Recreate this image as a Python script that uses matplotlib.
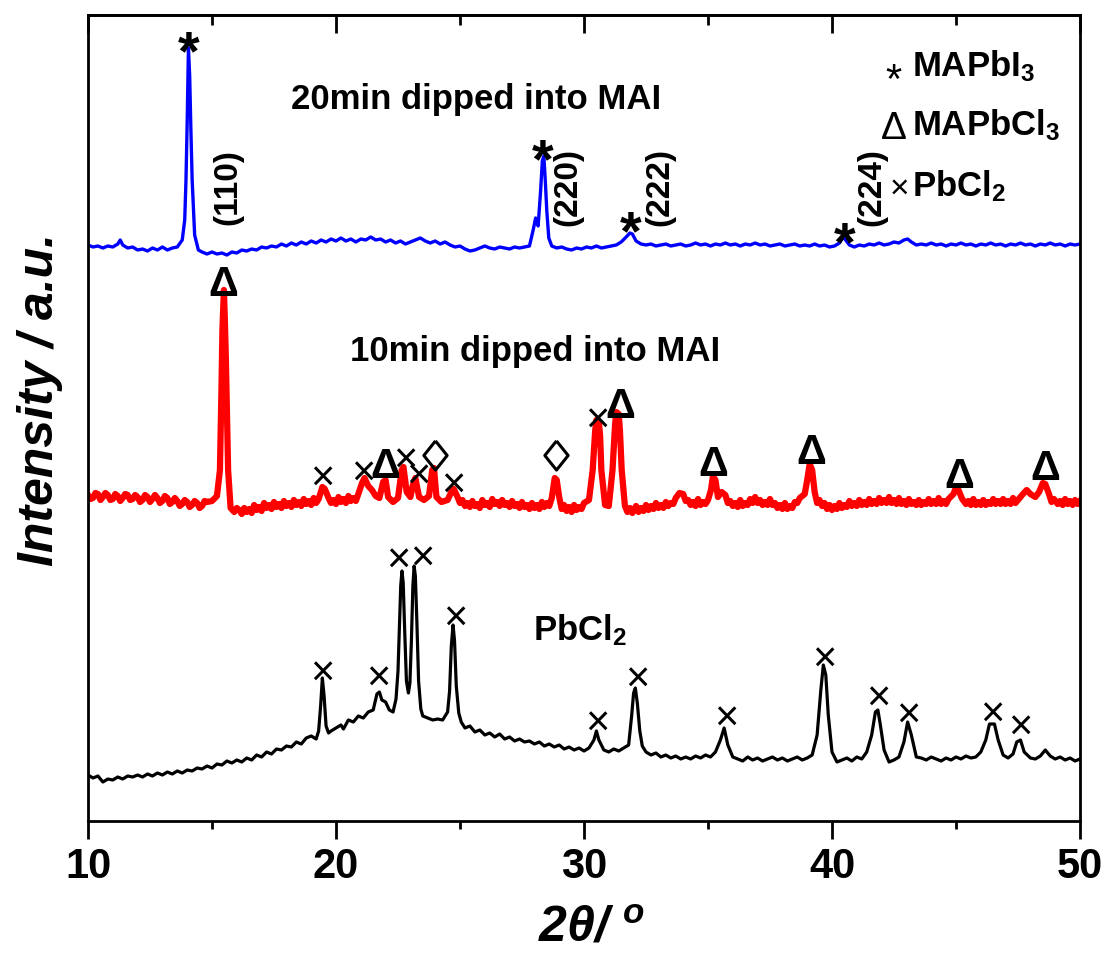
import numpy as np
import matplotlib
matplotlib.use("Agg")
from matplotlib import pyplot as plt

plt.rcParams['font.family'] = ['Liberation Sans', 'DejaVu Sans']
plt.rcParams['mathtext.fontset'] = 'custom'
plt.rcParams['mathtext.rm'] = 'Liberation Sans'
plt.rcParams['mathtext.bf'] = 'Liberation Sans:bold'
plt.rcParams['mathtext.it'] = 'Liberation Sans:italic:bold'

# XRD patterns (2theta, intensity a.u., curves already offset)
blue = [(10.0, 576), (10.2, 574), (10.4, 575), (10.6, 573), (10.8, 575), (11.0, 574), (11.2, 577), (11.3, 581),
        (11.4, 576), (11.6, 573), (11.8, 574), (12.0, 571), (12.2, 572), (12.4, 570), (12.6, 573), (12.8, 571),
        (13.0, 574), (13.2, 571), (13.4, 573), (13.6, 574), (13.8, 581), (13.9, 601), (13.95, 640), (14.0, 700),
        (14.05, 773), (14.1, 745), (14.15, 690), (14.2, 641), (14.3, 586), (14.45, 571), (14.6, 569), (14.8, 567),
        (15.0, 569), (15.2, 567),
        (15.4, 568), (15.6, 566), (15.8, 569), (16.0, 568), (16.2, 571), (16.4, 570), (16.6, 572), (16.8, 571),
        (17.0, 574), (17.2, 573), (17.4, 575), (17.6, 574), (17.8, 577), (18.0, 575), (18.2, 578), (18.4, 576),
        (18.6, 579), (18.8, 577), (19.0, 580), (19.2, 578), (19.4, 581), (19.6, 579), (19.8, 582), (20.0, 580),
        (20.2, 583), (20.4, 580), (20.6, 582), (20.8, 579), (21.0, 582), (21.2, 581), (21.4, 584), (21.6, 581),
        (21.8, 582), (22.0, 579), (22.2, 581), (22.4, 578), (22.6, 580), (22.8, 577), (23.0, 579), (23.2, 581),
        (23.4, 583), (23.6, 580), (23.8, 578), (24.0, 580), (24.2, 577), (24.4, 579), (24.6, 576), (24.8, 574),
        (25.0, 575), (25.2, 572), (25.4, 570), (25.6, 571), (25.8, 573), (26.0, 575), (26.2, 573), (26.4, 572),
        (26.6, 574), (26.8, 573), (27.0, 572), (27.2, 574), (27.4, 573), (27.6, 574), (27.8, 575), (27.95, 591),
        (28.05, 603), (28.15, 595), (28.25, 630), (28.32, 660), (28.38, 665), (28.44, 640), (28.5, 610),
        (28.58, 583), (28.7, 575), (28.9, 573),
        (29.1, 574), (29.3, 572), (29.5, 571), (29.7, 573), (29.9, 572), (30.1, 574), (30.3, 573), (30.5, 575),
        (30.7, 573), (30.9, 574), (31.1, 575), (31.3, 576), (31.5, 579), (31.7, 584), (31.85, 588), (31.95, 587),
        (32.1, 580), (32.3, 577), (32.5, 576), (32.7, 577), (32.9, 575), (33.1, 576), (33.3, 577), (33.5, 575),
        (33.7, 576), (33.9, 577), (34.1, 575), (34.3, 576), (34.5, 578), (34.7, 576), (34.9, 577), (35.1, 575),
        (35.3, 577), (35.5, 576), (35.7, 578), (35.9, 576), (36.1, 577), (36.3, 575), (36.5, 577), (36.7, 576),
        (36.9, 578), (37.1, 576), (37.3, 577), (37.5, 575), (37.7, 576), (37.9, 577), (38.1, 575), (38.3, 576),
        (38.5, 577), (38.7, 575), (38.9, 576), (39.1, 575), (39.3, 577), (39.5, 575), (39.7, 576), (39.9, 574),
        (40.1, 575), (40.3, 578), (40.45, 584), (40.55, 581), (40.7, 576), (40.9, 574), (41.1, 576), (41.3, 575),
        (41.5, 577), (41.7, 576), (41.9, 578), (42.1, 576), (42.3, 577), (42.5, 579), (42.7, 578), (42.9, 581),
        (43.05, 582), (43.2, 579), (43.4, 576), (43.6, 577), (43.8, 576), (44.0, 578), (44.2, 576), (44.4, 577),
        (44.6, 575), (44.8, 577), (45.0, 576), (45.2, 578), (45.4, 576), (45.6, 577), (45.8, 575), (46.0, 577),
        (46.2, 576), (46.4, 578), (46.6, 576), (46.8, 577), (47.0, 575), (47.2, 577), (47.4, 576), (47.6, 578),
        (47.8, 576), (48.0, 577), (48.2, 575), (48.4, 577), (48.6, 576), (48.8, 578), (49.0, 576), (49.2, 577),
        (49.4, 575), (49.6, 577), (49.8, 576), (50.0, 577)]

red = [(10.0, 326), (10.1, 322), (10.2, 323), (10.3, 328), (10.4, 327), (10.5, 321), (10.6, 324), (10.7, 328),
       (10.8, 326), (10.9, 321), (11.0, 322), (11.1, 327), (11.2, 325), (11.3, 320), (11.4, 323), (11.5, 327),
       (11.6, 326), (11.7, 321), (11.8, 322), (11.9, 326), (12.0, 324), (12.1, 319), (12.2, 321), (12.3, 326),
       (12.4, 324), (12.5, 319), (12.6, 322), (12.7, 326), (12.8, 323), (12.9, 318), (13.0, 320), (13.1, 325),
       (13.2, 323), (13.3, 317), (13.4, 319), (13.5, 323), (13.6, 320), (13.7, 315), (13.8, 317), (13.9, 321),
       (14.0, 319), (14.1, 314), (14.2, 316), (14.3, 320), (14.4, 318), (14.5, 313), (14.6, 315), (14.7, 320),
       (14.8, 319), (15.0, 320), (15.2, 325), (15.32, 351), (15.38, 430), (15.42, 491), (15.48, 531), (15.52, 500),
       (15.56, 461), (15.65, 351), (15.75, 313), (15.9, 309), (16.0, 313), (16.1, 311), (16.2, 307), (16.3, 313),
       (16.4, 309), (16.5, 312), (16.6, 308), (16.7, 316), (16.8, 311), (16.9, 314), (17.0, 310), (17.1, 318),
       (17.2, 313), (17.3, 316), (17.4, 312), (17.5, 319), (17.6, 314), (17.7, 317), (17.8, 313), (17.9, 320),
       (18.0, 315), (18.1, 318), (18.2, 314), (18.3, 321), (18.4, 316), (18.5, 319), (18.6, 315), (18.7, 322),
       (18.8, 317), (18.9, 320), (19.0, 316), (19.1, 323), (19.2, 318), (19.3, 322), (19.45, 334), (19.55, 332),
       (19.7, 323), (19.8, 318), (19.9, 321), (20.0, 317), (20.1, 324), (20.2, 319), (20.3, 322), (20.4, 318),
       (20.5, 325), (20.6, 320), (20.7, 323), (20.8, 320), (20.9, 327), (21.05, 338), (21.15, 343), (21.3, 335),
       (21.45, 331), (21.6, 325), (21.75, 323), (21.9, 339), (22.0, 341), (22.1, 324), (22.3, 319), (22.5, 323),
       (22.65, 351), (22.72, 354), (22.85, 329), (23.0, 324), (23.1, 336), (23.2, 343), (23.35, 324), (23.55, 321),
       (23.75, 325), (23.88, 351), (23.95, 353), (24.05, 324), (24.25, 319), (24.5, 321), (24.65, 329),
       (24.75, 332), (24.9, 324), (25.0, 318), (25.1, 321), (25.2, 315), (25.3, 318), (25.4, 314), (25.5, 320),
       (25.6, 315), (25.7, 317), (25.8, 313), (25.9, 321), (26.0, 316), (26.1, 318), (26.2, 314), (26.3, 322),
       (26.4, 317), (26.5, 319), (26.6, 315), (26.7, 321), (26.8, 316), (26.9, 318), (27.0, 314), (27.1, 320),
       (27.2, 315), (27.3, 317), (27.4, 313), (27.5, 319), (27.6, 314), (27.7, 316), (27.8, 312), (27.9, 318),
       (28.0, 313), (28.1, 316), (28.2, 312), (28.3, 319), (28.4, 314), (28.5, 318), (28.6, 315), (28.7, 323),
       (28.82, 343), (28.9, 341), (29.0, 324), (29.1, 312), (29.2, 316), (29.3, 310), (29.4, 314), (29.5, 309),
       (29.6, 316), (29.7, 311), (29.8, 314), (29.9, 312), (30.0, 318), (30.2, 321), (30.35, 351), (30.45, 390),
       (30.5, 401), (30.6, 399), (30.65, 385), (30.7, 351), (30.85, 316), (31.0, 315), (31.15, 351), (31.25, 395),
       (31.3, 409), (31.4, 407), (31.45, 390), (31.52, 351), (31.65, 315), (31.75, 309), (31.85, 313), (31.95, 308),
       (32.1, 315), (32.2, 309), (32.3, 313), (32.4, 310), (32.5, 316), (32.6, 311), (32.7, 315), (32.8, 312),
       (32.9, 318), (33.0, 313), (33.1, 316), (33.2, 313), (33.3, 319), (33.4, 315), (33.5, 318), (33.6, 317),
       (33.7, 323), (33.85, 328), (34.0, 327), (34.1, 320), (34.2, 321), (34.3, 316), (34.4, 319), (34.5, 315),
       (34.6, 322), (34.7, 316), (34.8, 319), (34.9, 317), (35.0, 321), (35.12, 331), (35.2, 345), (35.3, 341),
       (35.4, 324), (35.55, 329), (35.7, 326), (35.8, 318), (35.9, 320), (36.0, 315), (36.1, 318), (36.2, 314),
       (36.3, 321), (36.4, 315), (36.5, 318), (36.6, 316), (36.7, 322), (36.8, 318), (36.9, 324), (37.0, 318),
       (37.1, 321), (37.2, 316), (37.3, 319), (37.4, 316), (37.5, 322), (37.6, 316), (37.7, 318), (37.8, 313),
       (37.9, 316), (38.0, 312), (38.1, 318), (38.2, 312), (38.3, 315), (38.4, 313), (38.5, 319), (38.6, 318),
       (38.7, 323), (38.9, 327), (39.0, 341), (39.1, 357), (39.2, 351), (39.3, 329), (39.4, 318), (39.5, 321),
       (39.6, 315), (39.7, 318), (39.8, 312), (39.9, 316), (40.0, 311), (40.1, 315), (40.2, 312), (40.3, 318),
       (40.4, 313), (40.5, 316), (40.6, 314), (40.7, 320), (40.8, 315), (40.9, 318), (41.0, 315), (41.1, 321),
       (41.2, 316), (41.3, 319), (41.4, 316), (41.5, 322), (41.6, 317), (41.7, 320), (41.8, 317), (41.9, 323),
       (42.0, 318), (42.1, 321), (42.2, 318), (42.3, 324), (42.4, 318), (42.5, 321), (42.6, 317), (42.7, 323),
       (42.8, 317), (42.9, 320), (43.0, 316), (43.1, 322), (43.2, 317), (43.3, 319), (43.4, 316), (43.5, 321),
       (43.6, 316), (43.7, 319), (43.8, 317), (43.9, 322), (44.0, 317), (44.1, 320), (44.2, 317), (44.3, 323),
       (44.4, 317), (44.5, 320), (44.6, 317), (44.7, 322), (44.9, 327), (45.0, 334), (45.1, 331), (45.25, 322),
       (45.4, 317), (45.5, 320), (45.6, 316), (45.7, 322), (45.8, 316), (45.9, 319), (46.0, 316), (46.1, 321),
       (46.2, 316), (46.3, 319), (46.4, 317), (46.5, 322), (46.6, 317), (46.7, 320), (46.8, 317), (46.9, 322),
       (47.0, 317), (47.1, 320), (47.2, 317), (47.3, 323), (47.4, 318), (47.5, 321), (47.7, 327), (47.85, 331),
       (48.0, 327), (48.2, 324), (48.35, 329), (48.5, 338), (48.6, 337), (48.75, 327), (48.85, 319), (48.95, 322),
       (49.1, 317), (49.2, 320), (49.3, 316), (49.4, 322), (49.5, 317), (49.6, 320), (49.7, 316), (49.8, 321),
       (49.9, 317), (50.0, 320)]

black = [(10.0, 46), (10.2, 43), (10.4, 45), (10.6, 39), (10.8, 42), (11.0, 41), (11.2, 44), (11.4, 42),
         (11.6, 45), (11.8, 44), (12.0, 46), (12.2, 44), (12.4, 47), (12.6, 45), (12.8, 48), (13.0, 46),
         (13.2, 49), (13.4, 47), (13.6, 50), (13.8, 48), (14.0, 51), (14.2, 50), (14.4, 53), (14.6, 52),
         (14.8, 55), (15.0, 53), (15.2, 57), (15.4, 56), (15.6, 60), (15.8, 58), (16.0, 61), (16.2, 59),
         (16.4, 63), (16.6, 61), (16.8, 66), (17.0, 64), (17.2, 69), (17.4, 67), (17.6, 72), (17.8, 71),
         (18.0, 75), (18.2, 74), (18.4, 79), (18.6, 77), (18.8, 83), (19.0, 85), (19.2, 82), (19.3, 90),
         (19.38, 115), (19.45, 143), (19.52, 125), (19.6, 95), (19.7, 88), (19.8, 90), (20.0, 93), (20.2, 96),
         (20.3, 92), (20.5, 101), (20.7, 99), (20.9, 105), (21.1, 103), (21.3, 109), (21.5, 111), (21.65, 127),
         (21.75, 129), (21.85, 121), (22.0, 119), (22.15, 111), (22.3, 109), (22.42, 122), (22.5, 150),
         (22.56, 195), (22.61, 235), (22.66, 250), (22.71, 238), (22.77, 190), (22.84, 140), (22.92, 128),
         (22.98, 138), (23.04, 180), (23.1, 235), (23.15, 255), (23.2, 245), (23.26, 200), (23.33, 140),
         (23.42, 112), (23.5, 105), (23.7, 103), (23.9, 101), (24.1, 102), (24.3, 101), (24.5, 109), (24.58, 130),
         (24.65, 175), (24.72, 196), (24.78, 180), (24.85, 135), (24.95, 108), (25.05, 99),
         (25.2, 93), (25.4, 95), (25.6, 89), (25.8, 91), (26.0, 86), (26.2, 88), (26.4, 84), (26.6, 87),
         (26.8, 82), (27.0, 84), (27.2, 80), (27.4, 82), (27.6, 79), (27.8, 80), (28.0, 77), (28.2, 79),
         (28.4, 75), (28.6, 77), (28.8, 74), (29.0, 76), (29.2, 72), (29.4, 74), (29.6, 71), (29.8, 73),
         (30.0, 70), (30.2, 73), (30.4, 81), (30.5, 90), (30.6, 81), (30.8, 71), (31.0, 69), (31.2, 72),
         (31.4, 70), (31.6, 73), (31.8, 76), (31.92, 105), (32.0, 128), (32.07, 133), (32.15, 118), (32.25, 90),
         (32.35, 75), (32.5, 69),
         (32.7, 66), (32.9, 68), (33.1, 64), (33.3, 66), (33.5, 63), (33.7, 65), (33.9, 62), (34.1, 64),
         (34.3, 62), (34.5, 65), (34.7, 63), (34.9, 66), (35.1, 64), (35.3, 69), (35.5, 81), (35.65, 93),
         (35.8, 76), (36.0, 64), (36.2, 62), (36.4, 60), (36.6, 64), (36.8, 61), (37.0, 63), (37.2, 60),
         (37.4, 62), (37.6, 64), (37.8, 61), (38.0, 63), (38.2, 60), (38.4, 62), (38.6, 64), (38.8, 61),
         (39.0, 63), (39.2, 66), (39.4, 86), (39.55, 131), (39.65, 156), (39.75, 146), (39.85, 106), (40.0, 69),
         (40.2, 59), (40.4, 61), (40.6, 63), (40.8, 60), (41.0, 64), (41.2, 62), (41.4, 69), (41.6, 86),
         (41.75, 109), (41.85, 111), (41.95, 96), (42.1, 71), (42.3, 59), (42.5, 61), (42.7, 64), (42.9, 79),
         (43.05, 99), (43.2, 86), (43.4, 64), (43.6, 63), (43.8, 61), (44.0, 64), (44.2, 62), (44.4, 60),
         (44.6, 63), (44.8, 61), (45.0, 64), (45.2, 62), (45.4, 65), (45.6, 63), (45.8, 64), (46.0, 69),
         (46.2, 81), (46.35, 97), (46.55, 97), (46.7, 81), (46.9, 66), (47.1, 63), (47.3, 67), (47.45, 79),
         (47.6, 81), (47.75, 69), (48.0, 63), (48.2, 62), (48.4, 65), (48.6, 71), (48.8, 65), (49.0, 62),
         (49.2, 64), (49.4, 61), (49.6, 63), (49.8, 60), (50.0, 62)]

# peak labels (2theta, height)
star_pos = [(14.05, 784), (28.35, 676), (31.9, 604), (40.5, 593)]
hkl_pos = [(15.65, '(110)'), (29.35, '(220)'), (33.06, '(222)'), (41.6, '(224)')]
red_tri = [(15.44, 541), (21.98, 358), (31.45, 419), (35.2, 361), (39.15, 373), (45.12, 349), (48.59, 356)]
red_cross = [(19.44, 346), (21.09, 351), (22.78, 364), (23.31, 348), (24.72, 339), (30.52, 404)]
red_diamond = [(23.99, 366), (28.87, 366)]
black_cross = [(19.44, 151), (21.69, 146), (22.5, 264), (23.47, 266), (24.8, 206), (30.52, 101), (32.14, 145),
               (35.73, 106), (39.68, 165), (41.85, 126), (43.06, 109), (46.45, 110), (47.58, 97)]

fig = plt.figure(figsize=(11.07, 9.56), dpi=100)
ax = fig.add_axes([88 / 1107, 135 / 956, 992 / 1107, 806 / 956])

for data, col, lw in [(blue, '#0000ff', 2.4), (red, '#ff0000', 4.5), (black, 'black', 2.3)]:
    arr = np.array(data).T
    ax.plot(arr[0], arr[1], color=col, lw=lw)

ax.set_xlim(10, 50)
ax.set_ylim(0, 806)
ax.set_yticks([])
ax.set_xticks([10, 20, 30, 40, 50])
ax.set_xticks([15, 25, 35, 45], minor=True)
ax.tick_params(axis='x', which='major', direction='out', length=13, width=2, labelsize=30, pad=6)
ax.tick_params(axis='x', which='minor', direction='out', length=6, width=2)
for lab in ax.get_xticklabels():
    lab.set_fontweight('bold')
for sp in ax.spines.values():
    sp.set_linewidth(2)

top = ax.secondary_xaxis('top')
top.set_xticks([10, 20, 30, 40, 50])
top.set_xticks([15, 25, 35, 45], minor=True)
top.tick_params(axis='x', which='major', direction='in', length=13, width=2, labeltop=False)
top.tick_params(axis='x', which='minor', direction='in', length=7, width=2)
top.spines['top'].set_linewidth(2)

for x, y in star_pos:
    ax.annotate('*', (x, y), xytext=(0, -9), textcoords='offset points', ha='center',
                va='center_baseline', fontsize=40, fontweight='bold')
for x, s in hkl_pos:
    ax.text(x, 634, s, rotation=90, ha='center', va='center', fontsize=24, fontweight='bold')
for x, y in red_tri:
    ax.text(x, y, 'Δ', ha='center', va='center_baseline', fontsize=30, fontweight='bold')
for x, y in red_cross + black_cross:
    ax.text(x, y, '×', ha='center', va='center_baseline', fontsize=30)
diam = np.array(red_diamond).T
ax.plot(diam[0], diam[1], ls='none', marker=[(0, 1), (0.8, 0), (0, -1), (-0.8, 0), (0, 1)],
        ms=21, mfc='none', mec='black', mew=2.2)

ax.text(25.65, 721, '20min dipped into MAI', ha='center', va='center', fontsize=25, fontweight='bold')
ax.text(28.02, 469, '10min dipped into MAI', ha='center', va='center', fontsize=25, fontweight='bold')
ax.text(27.94, 191, 'PbCl$_\\mathbf{2}$', ha='left', va='center', fontsize=25, fontweight='bold')

# legend made of symbols + text
ax.annotate('*', (42.46, 753), xytext=(0, -7), textcoords='offset points', ha='center',
            va='center_baseline', fontsize=30)
ax.text(42.5, 696, 'Δ', ha='center', va='center_baseline', fontsize=28)
ax.text(42.7, 635, '×', ha='center', va='center_baseline', fontsize=24)
ax.text(43.23, 755, 'MAPbI$_\\mathbf{3}$', ha='left', va='center', fontsize=25, fontweight='bold')
ax.text(43.23, 696, 'MAPbCl$_\\mathbf{3}$', ha='left', va='center', fontsize=25, fontweight='bold')
ax.text(43.23, 635, 'PbCl$_\\mathbf{2}$', ha='left', va='center', fontsize=25, fontweight='bold')

fig.text(40 / 1107, 1 - 400 / 956, 'Intensity / a.u.', rotation=90, ha='center', va='center',
         fontsize=36, fontweight='bold', fontstyle='italic')
fig.text(591 / 1107, 1 - 928 / 956, '2θ/ $^{\\mathit{o}}$', ha='center', va='center',
         fontsize=36, fontweight='bold', fontstyle='italic')

fig.savefig('out.png', dpi=100)
